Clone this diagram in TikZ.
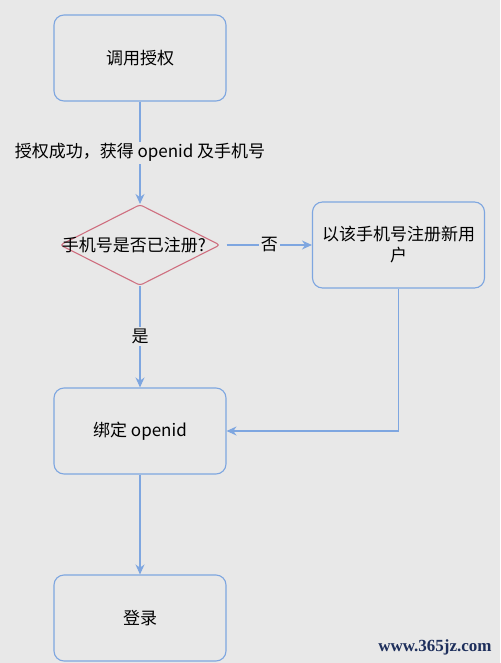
\documentclass[tikz,border=0pt]{standalone}
\usepackage{fontspec}
\setmainfont{Noto Sans CJK SC}
\newfontfamily\markfont{Liberation Serif}
\usetikzlibrary{shapes.geometric}
\usetikzlibrary{arrows.meta}

\definecolor{bgpaper}{HTML}{E8E8E8}
\definecolor{boxline}{HTML}{7EA6E0}
\definecolor{askline}{HTML}{CF6F80}
\definecolor{marknavy}{HTML}{1E2F5C}

\tikzset{
  stepbox/.style={draw=boxline, line width=1.1pt, rectangle, rounded corners=10pt,
    minimum width=172pt, minimum height=86pt, inner sep=0pt, align=center,
    font=\fontsize{17}{21}\selectfont},
  askbox/.style={draw=askline, line width=1.1pt, diamond, rounded corners=3pt,
    minimum width=160pt, minimum height=81pt, inner sep=0pt},
  flow/.style={draw=boxline, line width=1.1pt, -{Stealth[length=10pt,width=9pt]}},
  flowtext/.style={fill=bgpaper, inner sep=2pt, font=\fontsize{17}{20}\selectfont}
}

\begin{document}
\begin{tikzpicture}[x=1pt,y=-1pt]
  \fill[bgpaper] (0,0) rectangle (500,663);
  \useasboundingbox (0,0) rectangle (500,663);

  \node[stepbox] (auth) at (140,58) {调用授权};
  \node[askbox] (ask) at (140,245) {};
  \node[font=\fontsize{17}{20}\selectfont, inner sep=0pt] (asktext) at (134,245) {手机号是否已注册?};
  \node[stepbox] (reg) at (398.5,245) {以该手机号注册新用\\户};
  \node[stepbox] (bind) at (140,431) {绑定 openid};
  \node[stepbox] (login) at (140,618) {登录};

  \coordinate (corner) at (reg.south |- bind.east);

  \draw[flow] (auth) -- node[flowtext] {授权成功，获得 openid 及手机号} (ask);
  \draw[flow] ([xshift=6pt]ask.east) -- node[flowtext] {否} (reg);
  \draw[flow] (ask) -- node[flowtext] {是} (bind);
  \draw[flow] (reg.south) -- (corner) -- (bind.east);
  \draw[flow] (bind) -- (login);

  \node[text=marknavy, font=\markfont\bfseries\fontsize{17}{20}\selectfont] (mark) at (435,647) {www.365jz.com};
\end{tikzpicture}
\end{document}
